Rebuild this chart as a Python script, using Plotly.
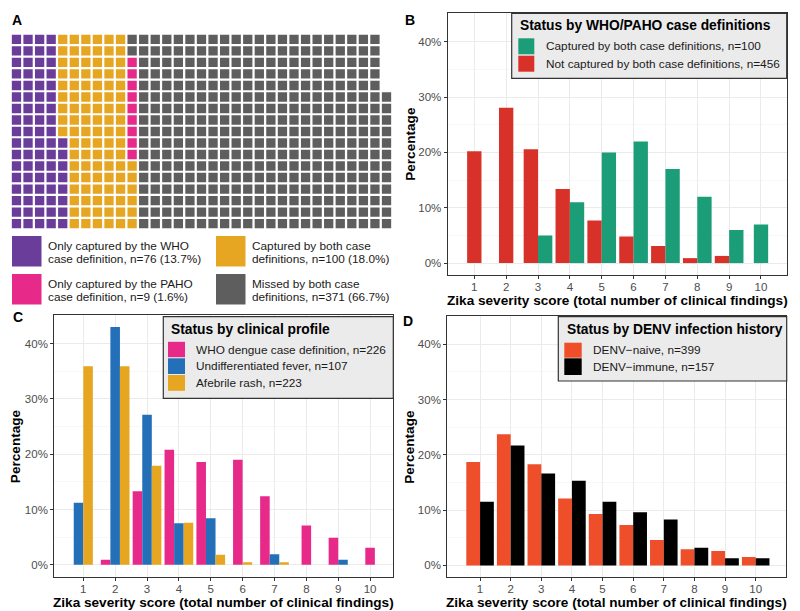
import plotly.graph_objects as go

W, H = 800, 611
FONT = "Liberation Sans, Arial, sans-serif"

# ---------------- Panel A (waffle) data ----------------
WAFFLE_LABELS = [
    "Only captured by the WHO\ncase definition, n=76 (13.7%)",
    "Captured by both case\ndefinitions, n=100 (18.0%)",
    "Only captured by the PAHO\ncase definition, n=9 (1.6%)",
    "Missed by both case\ndefinitions, n=371 (66.7%)",
]
WAFFLE_COUNTS = [76, 100, 9, 371]
WAFFLE_COLORS = ["#6A3D9A", "#E6A621", "#E7298A", "#5E5E5E"]
WAFFLE_ROWS = 17

# ---------------- Bar panel data ----------------
SCORES = [1, 2, 3, 4, 5, 6, 7, 8, 9, 10]
X_TITLE = "Zika severity score (total number of clinical findings)"
Y_TITLE = "Percentage"

B_TITLE = "Status by WHO/PAHO case definitions"
B_NOT_CAPTURED_NAME = "Not captured by both case definitions, n=456"
B_CAPTURED_NAME = "Captured by both case definitions, n=100"
B_NOT_CAPTURED = [20.2, 28.1, 20.6, 13.4, 7.7, 4.8, 3.1, 0.9, 1.3, 0.0]
B_CAPTURED = [0.0, 0.0, 5.0, 11.0, 20.0, 22.0, 17.0, 12.0, 6.0, 7.0]
B_COLORS = {"not": "#D8312A", "cap": "#1B9E77"}

C_TITLE = "Status by clinical profile"
C_NAMES = ["WHO dengue case definition, n=226", "Undifferentiated fever, n=107", "Afebrile rash, n=223"]
C_WHO = [0.0, 0.9, 13.3, 20.8, 18.6, 19.0, 12.4, 7.1, 4.9, 3.1]
C_UNDIFF = [11.2, 43.0, 27.1, 7.5, 8.4, 0.0, 1.9, 0.0, 0.9, 0.0]
C_AFEBRILE = [35.9, 35.9, 17.9, 7.6, 1.8, 0.45, 0.45, 0.0, 0.0, 0.0]
C_COLORS = ["#E7298A", "#2470B8", "#E6A621"]

D_TITLE = "Status by DENV infection history"
D_NAMES = ["DENV\u2212naive, n=399", "DENV\u2212immune, n=157"]
D_NAIVE = [18.7, 23.7, 18.3, 12.1, 9.3, 7.3, 4.6, 2.9, 2.6, 1.5]
D_IMMUNE = [11.5, 21.7, 16.6, 15.3, 11.5, 9.6, 8.3, 3.2, 1.3, 1.3]
D_COLORS = ["#EF4E2A", "#000000"]

Y_TICKS = [0, 10, 20, 30, 40]


def px_x(v):
    return v / W


def px_y(v):
    return 1 - v / H


fig = go.Figure()

# ---------------- Waffle ----------------
start = 0
for lab, cnt, col in zip(WAFFLE_LABELS, WAFFLE_COUNTS, WAFFLE_COLORS):
    idx = list(range(start, start + cnt))
    start += cnt
    fig.add_trace(go.Scatter(
        x=[i // WAFFLE_ROWS for i in idx],
        y=[i % WAFFLE_ROWS for i in idx],
        mode="markers",
        marker=dict(symbol="square", size=9.3, color=col, line=dict(width=0)),
        xaxis="x", yaxis="y", showlegend=False, hoverinfo="skip",
    ))

ncols = -(-sum(WAFFLE_COUNTS) // WAFFLE_ROWS)
fig.update_layout(
    xaxis=dict(domain=[px_x(10.7), px_x(392.3)], range=[-0.5, ncols - 0.5], visible=False, fixedrange=True),
    yaxis=dict(domain=[px_y(229.3), px_y(33.7)], range=[-0.5, WAFFLE_ROWS - 0.5], visible=False, fixedrange=True),
)

shapes = []
annotations = []

# waffle legend
wl_pos = [(12, 236), (216, 236), (12, 274), (216, 274)]
for (lx, ly), lab, col in zip(wl_pos, WAFFLE_LABELS, WAFFLE_COLORS):
    shapes.append(dict(type="rect", xref="paper", yref="paper",
                       x0=px_x(lx), x1=px_x(lx + 29.5), y0=px_y(ly + 30.5), y1=px_y(ly),
                       fillcolor=col, line=dict(width=0)))
    for k, line in enumerate(lab.split("\n")):
        annotations.append(dict(xref="paper", yref="paper", x=px_x(lx + 34), y=px_y(ly + 10 + 12.7 * k),
                                text=line, showarrow=False, xanchor="left", yanchor="middle",
                                font=dict(family=FONT, size=11.8, color="#1A1A1A")))


# ---------------- Bar panels ----------------
def add_dodged(series, xa, ya, total=0.9):
    w = total / len(series)
    xs = [[] for _ in series]
    ys = [[] for _ in series]
    for j, s in enumerate(SCORES):
        present = [i for i, (vals, _) in enumerate(series) if vals[j] > 0]
        m = len(present)
        for k, i in enumerate(present):
            xs[i].append(s + (k - (m - 1) / 2) * w)
            ys[i].append(series[i][0][j])
    for i, (vals, col) in enumerate(series):
        fig.add_trace(go.Bar(x=xs[i], y=ys[i], width=w, marker=dict(color=col, line=dict(width=0)),
                             xaxis=xa, yaxis=ya, showlegend=False, hoverinfo="skip"))


add_dodged([(B_NOT_CAPTURED, B_COLORS["not"]), (B_CAPTURED, B_COLORS["cap"])], "x2", "y2")
add_dodged([(C_WHO, C_COLORS[0]), (C_UNDIFF, C_COLORS[1]), (C_AFEBRILE, C_COLORS[2])], "x3", "y3")
add_dodged([(D_NAIVE, D_COLORS[0]), (D_IMMUNE, D_COLORS[1])], "x4", "y4")

panels = {
    2: dict(x=(447.7, 786.7), y=(13.3, 275.0), xr=[0.165, 10.807]),
    3: dict(x=(54.3, 392.7), y=(315.0, 576.7), xr=[0.09, 10.71]),
    4: dict(x=(447.3, 786.0), y=(315.7, 577.3), xr=[-0.07, 10.99]),
}
tickfont = dict(family=FONT, size=11.5, color="#4D4D4D")
for n, p in panels.items():
    fig.update_layout(**{
        f"xaxis{n}": dict(domain=[px_x(p["x"][0]), px_x(p["x"][1])], range=p["xr"], anchor=f"y{n}",
                          tickvals=SCORES, ticktext=[str(s) for s in SCORES], tickfont=tickfont,
                          showgrid=True, gridcolor="#EBEBEB", gridwidth=1, zeroline=False,
                          showline=True, mirror=True, linecolor="#333333", linewidth=1.1,
                          ticks="outside", ticklen=3, tickcolor="#333333", fixedrange=True,
                          ticklabelstandoff=-2),
        f"yaxis{n}": dict(domain=[px_y(p["y"][1]), px_y(p["y"][0])], range=[-2.15, 45.15], anchor=f"x{n}",
                          tickvals=Y_TICKS, ticktext=[f"{v}%" for v in Y_TICKS], tickfont=tickfont,
                          showgrid=True, gridcolor="#EBEBEB", gridwidth=1, zeroline=False,
                          minor=dict(tick0=5, dtick=10, showgrid=True, gridcolor="#F2F2F2", gridwidth=0.6),
                          showline=True, mirror=True, linecolor="#333333", linewidth=1.1,
                          ticks="outside", ticklen=3, tickcolor="#333333", fixedrange=True),
    })
    cx = (p["x"][0] + p["x"][1]) / 2
    cy = (p["y"][0] + p["y"][1]) / 2
    annotations.append(dict(xref="paper", yref="paper", x=px_x(cx), y=px_y(p["y"][1] + 25.5),
                            text=f"<b>{X_TITLE}</b>", showarrow=False, xanchor="center", yanchor="middle",
                            font=dict(family=FONT, size=13.6, color="#000000")))
    annotations.append(dict(xref="paper", yref="paper", x=px_x(p["x"][0] - 38), y=px_y(cy),
                            text=f"<b>{Y_TITLE}</b>", showarrow=False, textangle=-90,
                            xanchor="center", yanchor="middle",
                            font=dict(family=FONT, size=13.6, color="#000000")))


# ---------------- Custom legends ----------------
def legend_box(box, title, tpos, keys_x, items):
    x0, y0, x1, y1 = box
    shapes.append(dict(type="rect", xref="paper", yref="paper", x0=px_x(x0), x1=px_x(x1),
                       y0=px_y(y1), y1=px_y(y0), fillcolor="#EBEBEB",
                       line=dict(color="#333333", width=1.2)))
    annotations.append(dict(xref="paper", yref="paper", x=px_x(tpos[0]), y=px_y(tpos[1]),
                            text=f"<b>{title}</b>", showarrow=False, xanchor="left", yanchor="middle",
                            font=dict(family=FONT, size=13.8, color="#000000")))
    kx0, kx1, tx = keys_x
    for (name, col, ky0, ky1) in items:
        shapes.append(dict(type="rect", xref="paper", yref="paper", x0=px_x(kx0), x1=px_x(kx1),
                           y0=px_y(ky1), y1=px_y(ky0), fillcolor=col, line=dict(width=0)))
        annotations.append(dict(xref="paper", yref="paper", x=px_x(tx), y=px_y((ky0 + ky1) / 2),
                                text=name, showarrow=False, xanchor="left", yanchor="middle",
                                font=dict(family=FONT, size=11.8, color="#1A1A1A")))


legend_box((511.7, 13.3, 786.7, 78.3), B_TITLE, (517.5, 26), (518.3, 534.3, 543.5),
           [(B_CAPTURED_NAME, B_COLORS["cap"], 38.3, 54.3),
            (B_NOT_CAPTURED_NAME, B_COLORS["not"], 55.7, 71.7)])
legend_box((163.3, 316.7, 393.3, 398.3), C_TITLE, (168.5, 329.5), (168, 185, 194),
           [(C_NAMES[0], C_COLORS[0], 341.8, 357.2),
            (C_NAMES[1], C_COLORS[1], 358.3, 374.0),
            (C_NAMES[2], C_COLORS[2], 375.0, 390.8)])
legend_box((558.3, 316.7, 786.7, 381.0), D_TITLE, (564.5, 329.5), (564.3, 581.7, 590.5),
           [(D_NAMES[0], D_COLORS[0], 342.7, 357.7),
            (D_NAMES[1], D_COLORS[1], 358.3, 375.0)])

# panel letters
for letter, (lx, ly) in {"A": (17, 20), "B": (410, 20), "C": (18, 317), "D": (408, 321)}.items():
    annotations.append(dict(xref="paper", yref="paper", x=px_x(lx), y=px_y(ly), text=f"<b>{letter}</b>",
                            showarrow=False, xanchor="center", yanchor="middle",
                            font=dict(family=FONT, size=14, color="#000000")))

fig.update_layout(
    width=W, height=H, autosize=False,
    margin=dict(l=0, r=0, t=0, b=0),
    paper_bgcolor="white", plot_bgcolor="white",
    barmode="overlay", showlegend=False,
    shapes=shapes, annotations=annotations,
    font=dict(family=FONT),
)

fig.write_html(
    "out.html",
    config={"displayModeBar": False, "staticPlot": True},
    post_script="document.body.style.margin='0px';document.body.style.padding='0px';"
                "document.body.style.overflow='hidden';",
)
